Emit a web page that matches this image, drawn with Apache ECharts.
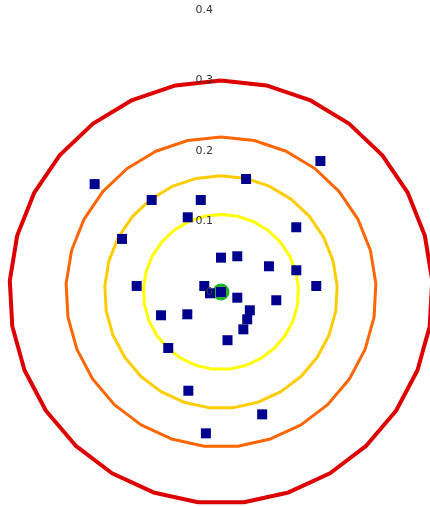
<!DOCTYPE html>
<html>
<head>
<meta charset="utf-8">
<style>
  html, body { margin: 0; padding: 0; background: #ffffff; }
  #chart { width: 430px; height: 506px; }
</style>
<script src="https://cdn.jsdelivr.net/npm/echarts@6/dist/echarts.min.js"></script>
</head>
<body>
<div id="chart"></div>
<script>
// Radius tick labels
const radiusTicks = [0, 0.1, 0.2, 0.3, 0.4];

// Vertex angles (degrees, clockwise from top) of the reference rings
const ringAngles = [0, 12.41, 24.83, 37.24, 49.66, 62.07, 74.48, 86.90, 99.31, 111.72,
  124.14, 136.55, 148.97, 161.38, 173.79, 186.21, 198.62, 211.03, 223.45, 235.86,
  248.28, 260.69, 273.10, 285.52, 297.93, 310.34, 322.76, 335.17, 347.59, 360];

// Reference ring radii and colours
const ringRadii = [0.11, 0.165, 0.22, 0.30];
const ringColors = ['#ffff00', '#ffcc00', '#ff6600', '#dd0000'];
const ringWidths = [3, 3, 3, 4];

// Observed points: radius
const pointRadius = [0.2332, 0.2357, 0.1642, 0.1634, 0.1336, 0.1160, 0.1408, 0.1593,
  0.0487, 0.0557, 0.0772, 0.1112, 0.1199, 0.1354, 0.0252, 0.0157, 0.0,
  0.0245, 0.0793, 0.0913, 0.0573, 0.0484, 0.0537, 0.0617, 0.0690,
  0.1091, 0.1475, 0.1831, 0.2016];
// Observed points: angle (degrees, clockwise from top)
const pointAngle = [37.2, 310.5, 12.5, 323.0, 347.6, 336.0, 49.3, 298.2,
  0, 24.5, 61.8, 73.9, 274.1, 86.4, 289.8, 263.3, 0,
  109.3, 98.5, 248.8, 236.5, 122.4, 136.2, 149.1, 172.3,
  223.3, 198.3, 161.4, 186.1];

// Reference centre point
const centrePoint = [[0, 0]];

const ringSeries = ringRadii.map((r, i) => ({
  type: 'line',
  coordinateSystem: 'polar',
  data: ringAngles.map(a => [r, a]),
  symbol: 'none',
  silent: true,
  animation: false,
  lineStyle: { color: ringColors[i], width: ringWidths[i] },
  z: 2
}));

const chart = echarts.init(document.getElementById('chart'));
chart.setOption({
  backgroundColor: '#ffffff',
  animation: false,
  polar: { center: [221, 292], radius: 282 },
  angleAxis: {
    type: 'value',
    min: 0,
    max: 360,
    startAngle: 90,
    clockwise: true,
    axisLine: { show: false },
    axisTick: { show: false },
    axisLabel: { show: false },
    splitLine: { show: false }
  },
  radiusAxis: {
    type: 'value',
    min: radiusTicks[0],
    max: radiusTicks[radiusTicks.length - 1],
    interval: 0.1,
    axisLine: { show: false },
    axisTick: { show: false },
    splitLine: { show: false },
    axisLabel: { color: '#333333', fontSize: 11, fontFamily: 'DejaVu Sans' },
    z: 10
  },
  series: ringSeries.concat([
    {
      type: 'scatter',
      coordinateSystem: 'polar',
      data: centrePoint,
      symbol: 'circle',
      symbolSize: 17,
      itemStyle: { color: '#22b422', opacity: 1 },
      z: 3
    },
    {
      type: 'scatter',
      coordinateSystem: 'polar',
      data: pointRadius.map((r, i) => [r, pointAngle[i]]),
      symbol: 'rect',
      symbolSize: 10,
      itemStyle: { color: '#00008f', opacity: 1 },
      z: 4
    }
  ])
});
</script>
</body>
</html>
